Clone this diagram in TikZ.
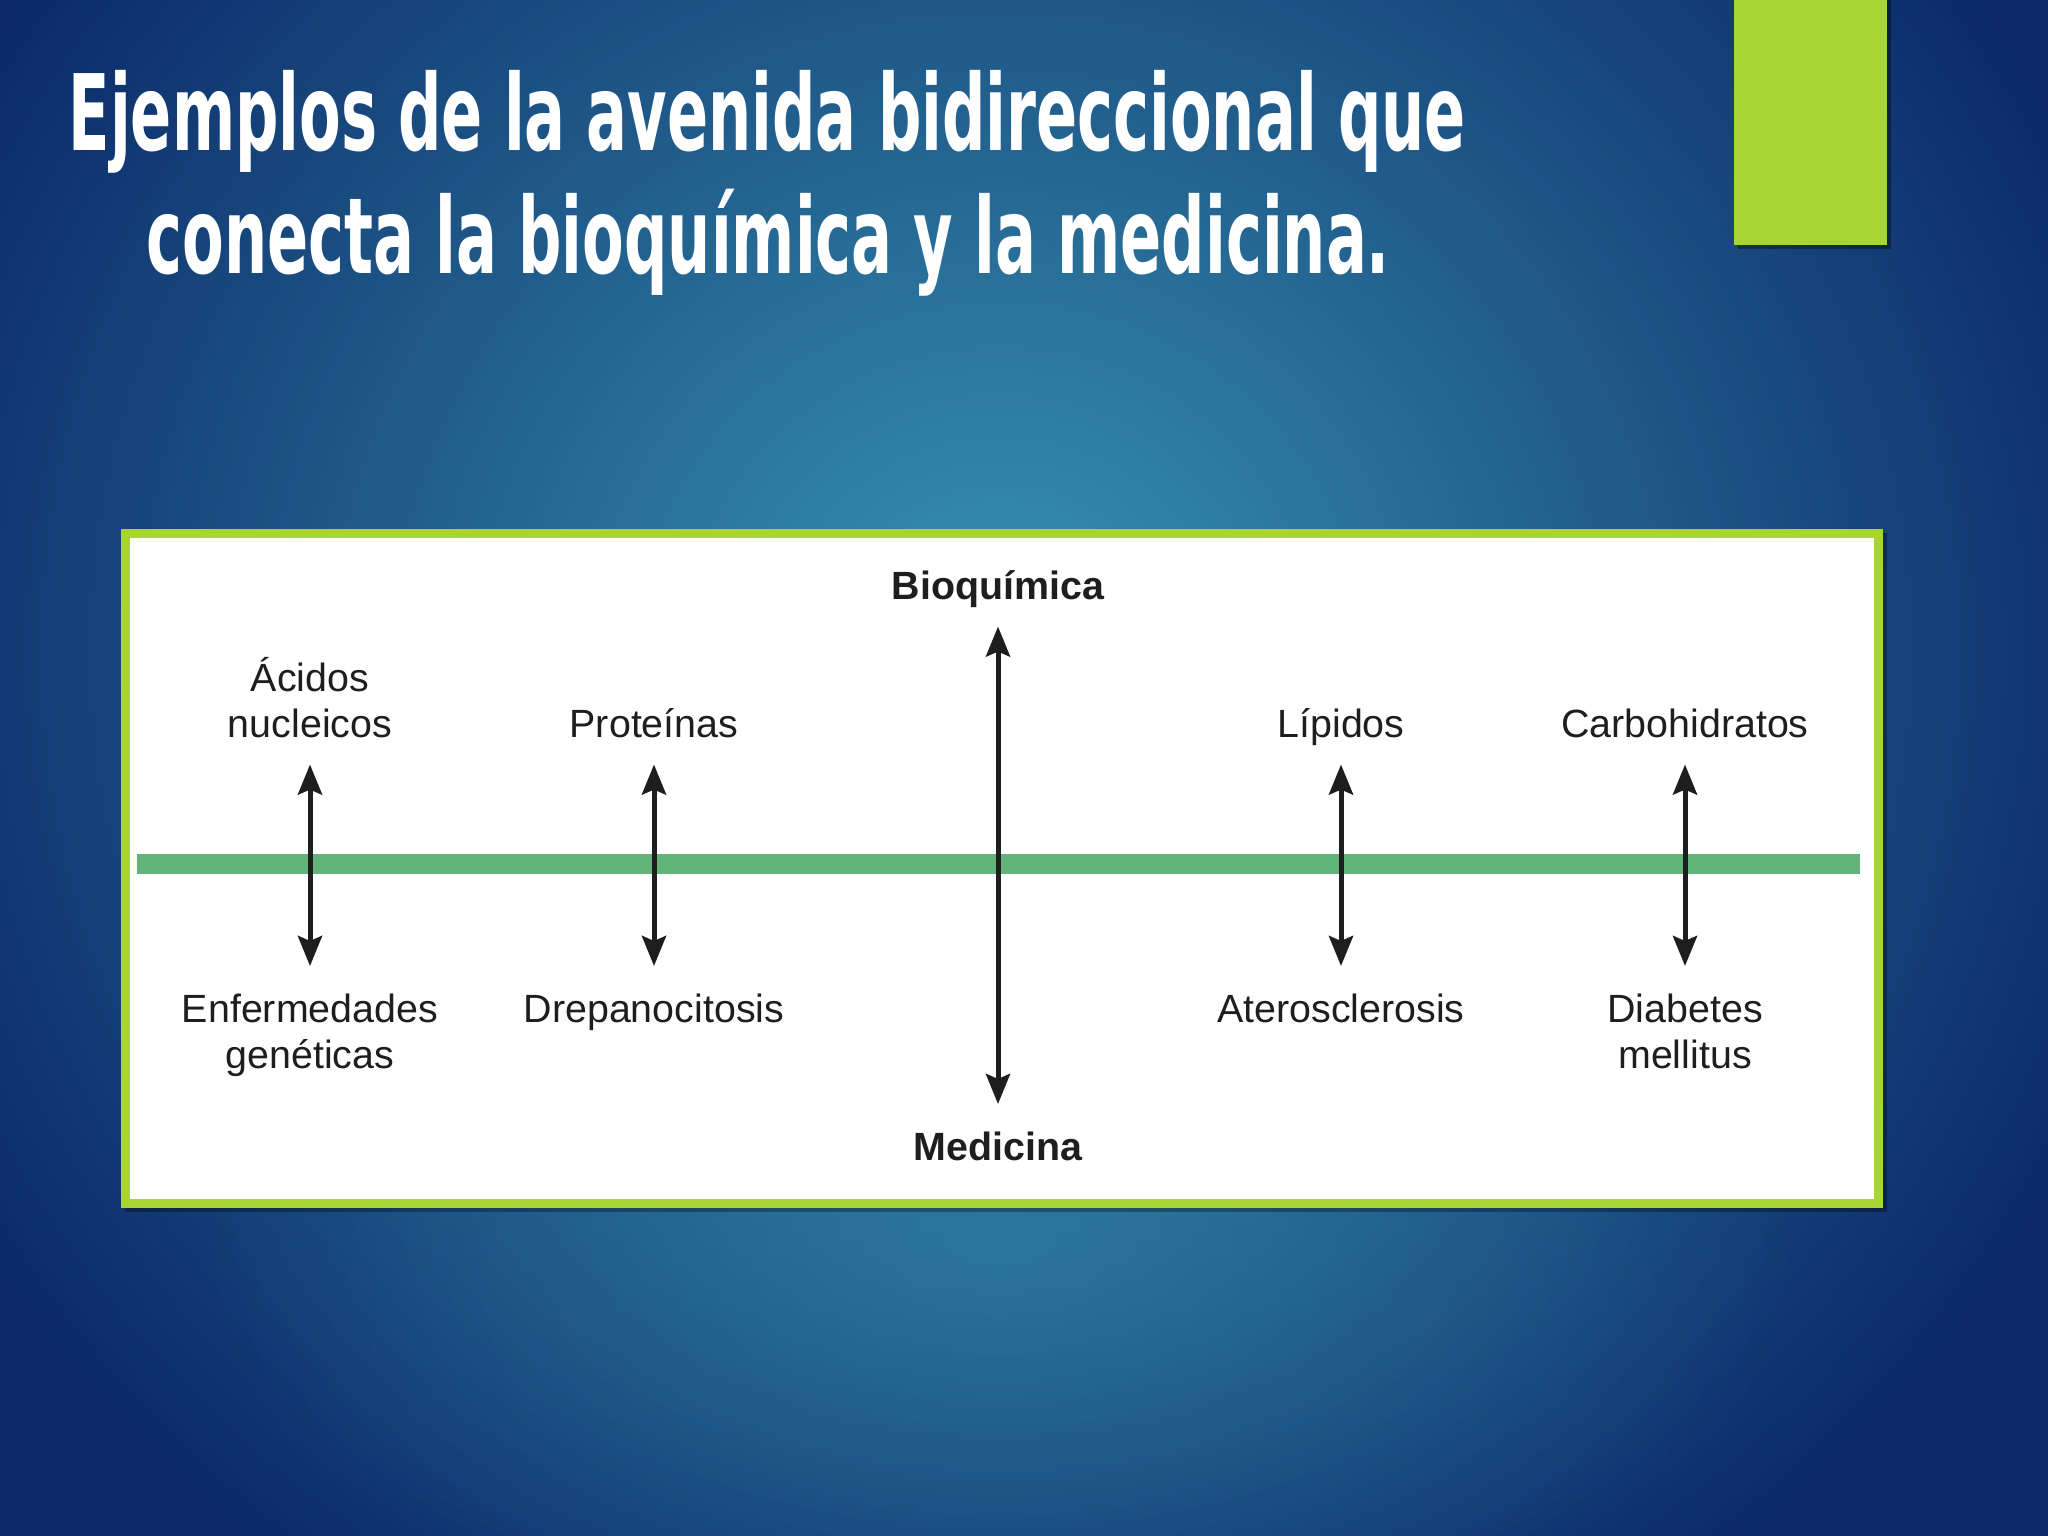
\documentclass[tikz,border=0pt]{standalone}
\usepackage{fontspec}
\setmainfont{Liberation Sans}
\newfontfamily\titlefont[FakeStretch=0.575]{DejaVu Sans}
\usetikzlibrary{arrows.meta,fadings}
\tikzfading[name=glowfade,inner color=transparent!0,outer color=transparent!100]
\definecolor{navy}{HTML}{0B2868}
\definecolor{glow}{HTML}{3894B2}
\definecolor{lime}{HTML}{A9D534}
\definecolor{band}{HTML}{62B47B}
\definecolor{ink}{HTML}{1E1E1E}
\begin{document}
\begin{tikzpicture}[x=0.01cm,y=-0.01cm,
  lbl/.style={font=\fontsize{11.2}{13.1}\selectfont,text=ink,align=center,inner sep=0pt,text depth=0pt},
  biarrow/.style={arrows={Stealth[length=0.3cm,width=0.24cm,inset=0.05cm]-Stealth[length=0.3cm,width=0.24cm,inset=0.05cm]},
    line width=0.05cm,draw=ink,shorten <=0.265cm,shorten >=0.27cm},
  title/.style={font=\titlefont\bfseries\fontsize{30}{36}\selectfont,text=white,inner sep=0pt,anchor=base west}]
\useasboundingbox (0,0) rectangle (2048,1536);
% background
\fill[navy] (0,0) rectangle (2048,1536);
\fill[glow,path fading=glowfade] (1000,650) ellipse [x radius=1200,y radius=1150];
\fill[glow,path fading=glowfade,opacity=.45] (1000,1250) ellipse [x radius=800,y radius=450];
% title
\node[title] (t1) at (68,150) {Ejemplos de la avenida bidireccional que};
\node[title] (t2) at (146,273) {conecta la bioquímica y la medicina.};
% corner bar
\fill[black,opacity=.35] (1738,0) rectangle (1891,249);
\fill[lime] (1734,0) rectangle (1887,245);
% framed panel
\fill[black,opacity=.3] (125,533) rectangle (1887,1212);
\draw[lime,fill=white,line width=0.09cm] (125.5,533.5) rectangle (1878.5,1203.5);
\fill[band] (137,854) rectangle (1860,874);
% labels
\node[lbl,anchor=south] (bio) at (998,600) {\bfseries Bioquímica};
\node[lbl,anchor=north] (med) at (998,1131) {\bfseries Medicina};
\node[lbl,anchor=south] (acid) at (310,738) {Ácidos\\nucleicos};
\node[lbl,anchor=south] (prot) at (654,738) {Proteínas};
\node[lbl,anchor=south] (lip) at (1341,738) {Lípidos};
\node[lbl,anchor=south] (carb) at (1685,738) {Carbohidratos};
\node[lbl,anchor=north] (enf) at (310,993) {Enfermedades\\genéticas};
\node[lbl,anchor=north] (drep) at (654,993) {Drepanocitosis};
\node[lbl,anchor=north] (ater) at (1341,993) {Aterosclerosis};
\node[lbl,anchor=north] (diab) at (1685,993) {Diabetes\\mellitus};
% two-way arrows
\foreach \a/\b in {acid/enf,prot/drep,bio/med,lip/ater,carb/diab}
  \draw[biarrow] (\a) -- (\b);
\end{tikzpicture}
\end{document}
